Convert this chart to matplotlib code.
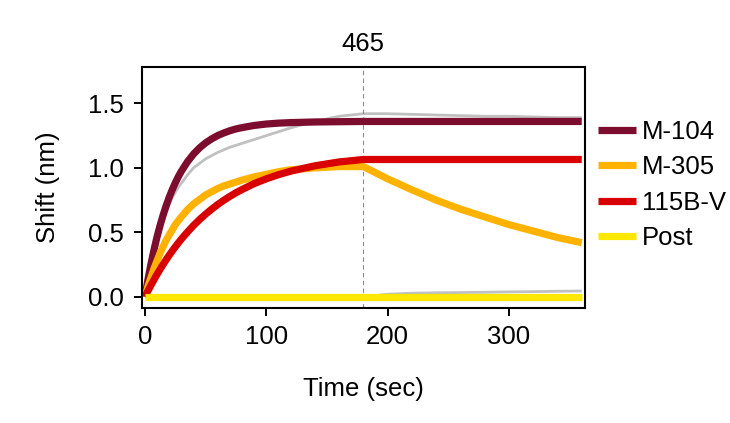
import matplotlib
matplotlib.use("Agg")
import matplotlib.pyplot as plt

plt.rcParams['font.family'] = ['Liberation Sans', 'DejaVu Sans']

# ---- data ----
t_assoc = [0, 2.5, 5, 7.5, 10, 12.5, 15, 17.5, 20, 22.5, 25, 27.5, 30, 35, 40, 45, 50, 55,
           60, 65, 70, 75, 80, 90, 100, 110, 120, 140, 160, 180]
t_dissoc = [180, 200, 220, 240, 260, 280, 300, 320, 340, 360]

m104_assoc = [0, 0.136, 0.257, 0.367, 0.467, 0.555, 0.635, 0.707, 0.773, 0.831, 0.884, 0.932,
              0.974, 1.047, 1.107, 1.155, 1.194, 1.225, 1.251, 1.271, 1.288, 1.302, 1.312,
              1.329, 1.340, 1.347, 1.351, 1.356, 1.358, 1.36]
m104_dissoc = [1.36, 1.36, 1.36, 1.36, 1.36, 1.36, 1.36, 1.36, 1.36, 1.36]

m305_assoc = [0, 0.08, 0.15, 0.22, 0.28, 0.34, 0.39, 0.44, 0.48, 0.52, 0.56, 0.59, 0.62,
              0.675, 0.72, 0.755, 0.79, 0.815, 0.84, 0.86, 0.875, 0.89, 0.905, 0.93, 0.95,
              0.97, 0.985, 1.0, 1.01, 1.01]
m305_dissoc = [1.01, 0.915, 0.83, 0.75, 0.68, 0.62, 0.56, 0.51, 0.46, 0.42]

b115_assoc = [0, 0.047, 0.091, 0.134, 0.175, 0.214, 0.252, 0.288, 0.323, 0.356, 0.388, 0.418,
              0.448, 0.502, 0.553, 0.599, 0.641, 0.680, 0.716, 0.749, 0.779, 0.807, 0.832,
              0.878, 0.915, 0.947, 0.974, 1.016, 1.046, 1.065]
b115_dissoc = [1.065] * 10

post_assoc = [0] * 30
post_dissoc = [0] * 10

# raw (gray) traces
raw_m104_assoc = [0, 0.13, 0.25, 0.35, 0.45, 0.53, 0.60, 0.66, 0.72, 0.77, 0.81, 0.85, 0.88,
                  0.945, 1.0, 1.035, 1.07, 1.095, 1.12, 1.14, 1.16, 1.175, 1.19, 1.22, 1.25,
                  1.28, 1.31, 1.36, 1.40, 1.42]
raw_m104_dissoc = [1.42, 1.42, 1.415, 1.41, 1.405, 1.40, 1.40, 1.395, 1.39, 1.39]
raw_b115_assoc = b115_assoc[:-1] + [1.072]
raw_b115_dissoc = [1.075] * 10
raw_post_assoc = [0] * 30
raw_post_dissoc = [0.0, 0.02, 0.028, 0.031, 0.033, 0.035, 0.038, 0.04, 0.043, 0.045]

labels = ['M-104', 'M-305', '115B-V', 'Post']
colors = ['#7d0d2e', '#ffb300', '#d80000', '#ffe800']
t_switch = 180
xticks = [0, 100, 200, 300]
yticks = [0.0, 0.5, 1.0, 1.5]

fig = plt.figure(figsize=(7.3, 4.23), dpi=100)
ax = fig.add_axes([141.7 / 730, 1 - 307.5 / 423, (585 - 141.7) / 730, (307.5 - 67.3) / 423])

t_all = t_assoc + t_dissoc[1:]
gray = '#c0c0c0'
for a, d in [(raw_m104_assoc, raw_m104_dissoc), (raw_b115_assoc, raw_b115_dissoc),
             (raw_post_assoc, raw_post_dissoc)]:
    ax.plot(t_all, a + d[1:], color=gray, lw=2.0, zorder=1, solid_capstyle='butt')

ax.axvline(t_switch, color='#8c8c8c', lw=0.8, ls=(0, (4, 3)), zorder=1.5)

fits = [(m104_assoc, m104_dissoc), (m305_assoc, m305_dissoc),
        (b115_assoc, b115_dissoc), (post_assoc, post_dissoc)]
for (a, d), lab, c in zip(fits, labels, colors):
    ax.plot(t_all, a + d[1:], color=c, lw=5.2, label=lab, zorder=2, solid_capstyle='butt')

ax.set_xlim(-2.7, 362.7)
ax.set_ylim(-0.083, 1.78)
ax.set_xticks(xticks)
ax.set_xticklabels([str(v) for v in xticks])
ax.set_yticks(yticks)
ax.set_yticklabels([f'{v:.1f}' for v in yticks])

fs = 18.5
ax.tick_params(axis='both', labelsize=fs, length=5.8, width=1.4, pad=7.0, color='black')
for s in ax.spines.values():
    s.set_linewidth(1.5)

ax.set_title('465', fontsize=fs, pad=12)
ax.set_xlabel('Time (sec)', fontsize=fs, labelpad=20)
ax.set_ylabel('Shift (nm)', fontsize=fs, labelpad=20)

leg = ax.legend(loc='center left', bbox_to_anchor=(1.0, 0.51), frameon=False,
                fontsize=fs, handlelength=1.5, handletextpad=0.2,
                borderaxespad=0, borderpad=0.5, labelspacing=0.45)
for h in leg.get_lines():
    h.set_linewidth(5.2)

fig.savefig('out.png', dpi=100)
